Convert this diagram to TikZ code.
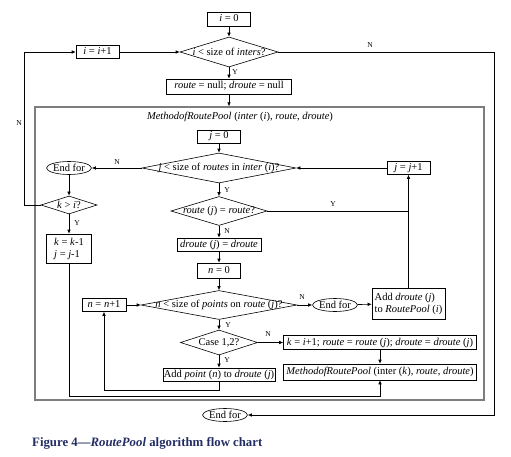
\documentclass[tikz,border=0pt]{standalone}
\usepackage{fontspec}
\setmainfont{Liberation Serif}
\usetikzlibrary{arrows.meta,shapes.geometric}
\definecolor{capblue}{RGB}{35,45,100}
\definecolor{framegray}{RGB}{125,125,125}
\begin{document}
\begin{tikzpicture}[x=1pt,y=-1pt,
  every node/.style={font=\fontsize{10.5}{12}\selectfont},
  box/.style={draw, line width=0.6pt, rectangle, inner sep=1pt, minimum height=14pt, text height=7.5pt, text depth=2.5pt},
  dia/.style={draw, line width=0.6pt, diamond, inner sep=0pt},
  endfor/.style={draw, line width=0.6pt, ellipse, inner sep=0pt, minimum width=44pt, minimum height=13pt},
  lbl/.style={font=\fontsize{7.5}{9}\selectfont, inner sep=0pt},
  conn/.style={line width=0.6pt, -{Latex[length=4pt,width=3.5pt]}},
  plain/.style={line width=0.6pt},
  framebox/.style={draw=framegray, line width=1.2pt, rectangle, inner sep=0pt}]
\useasboundingbox (0,0) rectangle (511,457);

% outer frame
\node[framebox, minimum width=449pt, minimum height=293pt] (frame) at (259.5,253.5) {};

% top part
\node[box, minimum width=43pt] (i0) at (229,19) {\textit{i} = 0};
\node[dia, minimum width=98pt, minimum height=30pt] (d1) at (229,52) {\makebox[0pt]{\textit{i} < size of \textit{inters}?}};
\node[box, minimum width=43pt, minimum height=13pt] (i1) at (97.5,52) {\textit{i} = \textit{i}+1};
\node[box, minimum width=125pt, minimum height=15pt] (r0) at (229,86.5) {\textit{route} = null; \textit{droute} = null};
\node[inner sep=0pt] (title) at (240,117) {\textit{MethodofRoutePool} (\textit{inter} (\textit{i}), \textit{route}, \textit{droute})};

% j loop
\node[box, minimum width=43pt, minimum height=13pt] (j0) at (219,136.5) {\textit{j} = 0};
\node[dia, minimum width=154pt, minimum height=30pt] (d2) at (219,168) {\makebox[0pt]{\textit{j} < size of \textit{routes} in \textit{inter} (\textit{i})?}};
\node[box, minimum width=43pt, minimum height=13pt] (jj) at (408.5,168) {\textit{j} = \textit{j}+1};
\node[endfor] (ef1) at (69,168) {End for};
\node[dia, minimum width=56pt, minimum height=18pt] (kgt) at (69,205) {\makebox[0pt]{\textit{k} > \textit{i}?}};
\node[box, minimum width=45pt, minimum height=29pt, align=left, text height=, text depth=, inner sep=2pt] (km) at (69,248.5) {\textit{k} = \textit{k}-1\\\textit{j} = \textit{j}-1};
\node[dia, minimum width=96pt, minimum height=29pt] (d3) at (219,211) {\makebox[0pt]{\textit{route} (\textit{j}) = \textit{route}?}};
\node[box, minimum width=84pt, minimum height=13pt] (dr) at (219,244.5) {\textit{droute} (\textit{j}) = \textit{droute}};

% n loop
\node[box, minimum width=43pt, minimum height=15pt] (n0) at (219,270.5) {\textit{n} = 0};
\node[dia, minimum width=156pt, minimum height=29pt] (d4) at (219,305) {\makebox[0pt]{\textit{n} < size of \textit{points} on \textit{route} (\textit{j})?}};
\node[box, minimum width=44pt, minimum height=13pt] (nn) at (104,305) {\textit{n} = \textit{n}+1};
\node[endfor] (ef2) at (335,305) {End for};
\node[box, minimum width=73pt, minimum height=31pt, align=left, text height=, text depth=] (add) at (408.5,303.5) {Add \textit{droute} (\textit{j})\\to \textit{RoutePool} (\textit{i})};
\node[dia, minimum width=77pt, minimum height=25pt] (d5) at (219,342.5) {\makebox[0pt]{Case 1,2?}};
\node[box, minimum width=193pt, minimum height=14pt] (kk) at (380,342.5) {\textit{k} = \textit{i}+1; \textit{route} = \textit{route} (\textit{j}); \textit{droute} = \textit{droute} (\textit{j})};
\node[box, minimum width=193pt, minimum height=16pt] (mk) at (380,372) {\textit{MethodofRoutePool} (inter (\textit{k}), \textit{route}, \textit{droute})};
\node[box, minimum width=110pt, minimum height=13pt] (ap) at (219,374.5) {Add \textit{point} (\textit{n}) to \textit{droute} (\textit{j})};

\node[endfor] (ef3) at (225,415) {End for};

% caption
\node[anchor=west, inner sep=0pt, text=capblue, font=\fontsize{12.8}{15}\selectfont\bfseries] (cap) at (32,443) {Figure 4---\textit{RoutePool} algorithm flow chart};

% connectors
\draw[conn] (i0) -- (d1);
\draw[conn] (d1) -- (r0);
\draw[conn] (r0) -- (r0.south |- frame.north);
\draw[conn] (i1) -- (d1.west);
\draw[conn] (kgt.west) -- (24,205) -- (24,52) -- (i1.west);
\draw[conn] (d1.east) -- (494,52) -- (494,415) -- (ef3.east);

\draw[conn] (j0) -- (d2);
\draw[conn] (d2.west) -- (ef1.east);
\draw[conn] (jj.west) -- (d2.east);
\draw[conn] (d2.south) -- (d3.north);
\draw[plain] (d3.east) -- (d3.east -| add.north);
\draw[conn] (d3.south) -- (dr.north);
\draw[conn] (dr) -- (n0);
\draw[conn] (n0) -- (d4.north);
\draw[conn] (d4.east) -- (ef2.west);
\draw[conn] (ef2) -- (add);
\draw[conn] (add.north) -- (jj.south);
\draw[conn] (nn.east) -- (d4.west);
\draw[conn] (d4.south) -- (d5.north);
\draw[conn] (d5.east) -- (kk.west);
\draw[conn] (kk) -- (mk);
\draw[conn] (d5.south) -- (ap.north);
\draw[conn] (ap.south) -- (219,390) -- (104,390) -- (nn.south);
\draw[conn] (ef1) -- (kgt.north);
\draw[conn] (kgt.south) -- (km.north);
\draw[conn] (km.south) -- (69,396) -- (380,396) -- (mk.south);

% labels
\node[lbl] at (235,72) {Y};
\node[lbl] at (370,45) {N};
\node[lbl] at (19,123) {N};
\node[lbl] at (117,162) {N};
\node[lbl] at (227,190) {Y};
\node[lbl] at (227,231) {N};
\node[lbl] at (333,204) {Y};
\node[lbl] at (77,223) {Y};
\node[lbl] at (302,297) {N};
\node[lbl] at (228,325) {Y};
\node[lbl] at (268,334) {N};
\node[lbl] at (227,360) {Y};
\end{tikzpicture}
\end{document}
